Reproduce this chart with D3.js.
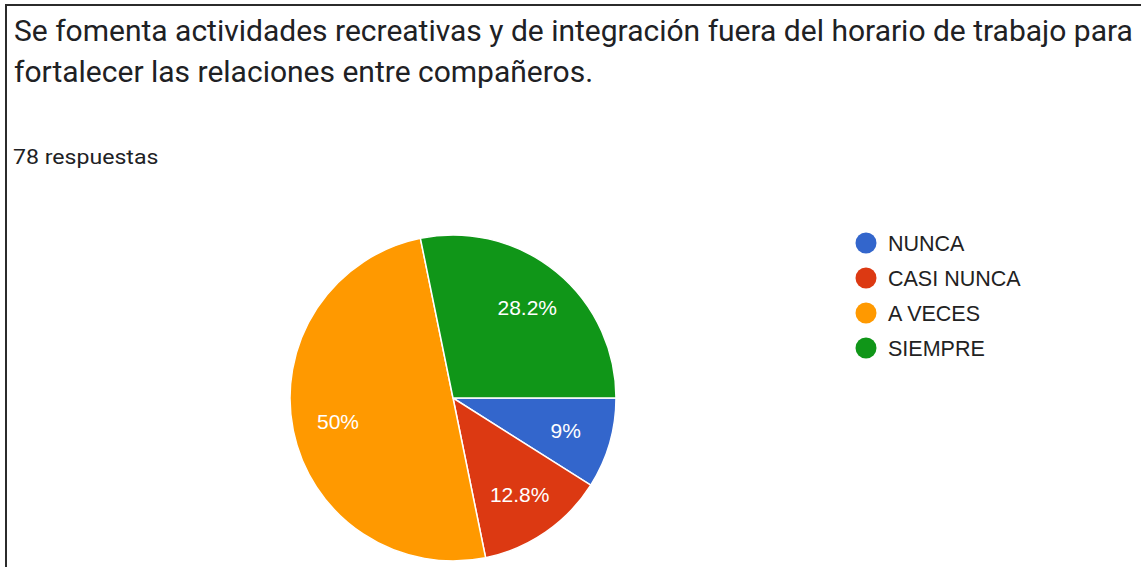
<!DOCTYPE html>
<html>
<head>
<meta charset="utf-8">
<script src="https://cdn.jsdelivr.net/npm/d3@7"></script>
<style>
  html, body { margin: 0; padding: 0; background: #ffffff; }
  svg { display: block; }
</style>
</head>
<body>
<svg id="chart" width="1141" height="567"></svg>
<script>
// ---- data ----
const titleLines = [
  "Se fomenta actividades recreativas y de integración fuera del horario de trabajo para",
  "fortalecer las relaciones entre compañeros."
];
const subtitle = "78 respuestas";
const categories = ["NUNCA", "CASI NUNCA", "A VECES", "SIEMPRE"];
const counts = [7, 10, 39, 22];
const percentLabels = ["9%", "12.8%", "50%", "28.2%"];
const colors = ["#3366cc", "#dc3912", "#ff9900", "#109618"];

// ---- layout ----
const svg = d3.select("#chart");
const W = 1141, H = 567;

// frame (top and left edges of the screenshot border)
svg.append("rect")
  .attr("x", 6).attr("y", 5)
  .attr("width", W + 20).attr("height", H + 20)
  .attr("fill", "none").attr("stroke", "#2b2b2b").attr("stroke-width", 2);

// title
const title = svg.append("g");
title.selectAll("text").data(titleLines).join("text")
  .attr("x", 14)
  .attr("y", (d, i) => 41 + i * 41)
  .attr("font-family", "Roboto, sans-serif")
  .attr("font-size", 30)
  .attr("fill", "#202124")
  .text(d => d);

const sub = svg.append("text")
  .attr("x", 13).attr("y", 164)
  .attr("font-family", "Roboto, sans-serif")
  .attr("font-size", 21)
  .attr("fill", "#202124")
  .text(subtitle);
const subLen = sub.node().getComputedTextLength();
sub.attr("textLength", subLen * 1.1).attr("lengthAdjust", "spacingAndGlyphs");

// pie
const cx = 453, cy = 398, R = 163;
const pie = d3.pie().sort(null).value(d => d)
  .startAngle(Math.PI / 2).endAngle(Math.PI / 2 + 2 * Math.PI);
const arcs = pie(counts);
const arc = d3.arc().innerRadius(0).outerRadius(R);
const labelArc = d3.arc().innerRadius(R * 0.72).outerRadius(R * 0.72);

const g = svg.append("g").attr("transform", `translate(${cx},${cy})`);
g.selectAll("path").data(arcs).join("path")
  .attr("d", arc)
  .attr("fill", (d, i) => colors[i])
  .attr("stroke", "#ffffff")
  .attr("stroke-width", 1.5);

g.selectAll("text.lbl").data(arcs).join("text")
  .attr("class", "lbl")
  .attr("transform", d => `translate(${labelArc.centroid(d)})`)
  .attr("text-anchor", "middle")
  .attr("dy", "0.36em")
  .attr("font-family", "Arial, 'Liberation Sans', sans-serif")
  .attr("font-size", 21)
  .attr("fill", "#ffffff")
  .text((d, i) => percentLabels[i]);

// legend
const legend = svg.append("g").attr("transform", "translate(866,243)");
const li = legend.selectAll("g").data(categories).join("g")
  .attr("transform", (d, i) => `translate(0,${i * 35})`);
li.append("circle").attr("r", 10.5).attr("fill", (d, i) => colors[i]);
li.append("text")
  .attr("x", 22).attr("dy", "0.36em")
  .attr("font-family", "Arial, 'Liberation Sans', sans-serif")
  .attr("font-size", 21.5)
  .attr("fill", "#222222")
  .text(d => d);
</script>
</body>
</html>
